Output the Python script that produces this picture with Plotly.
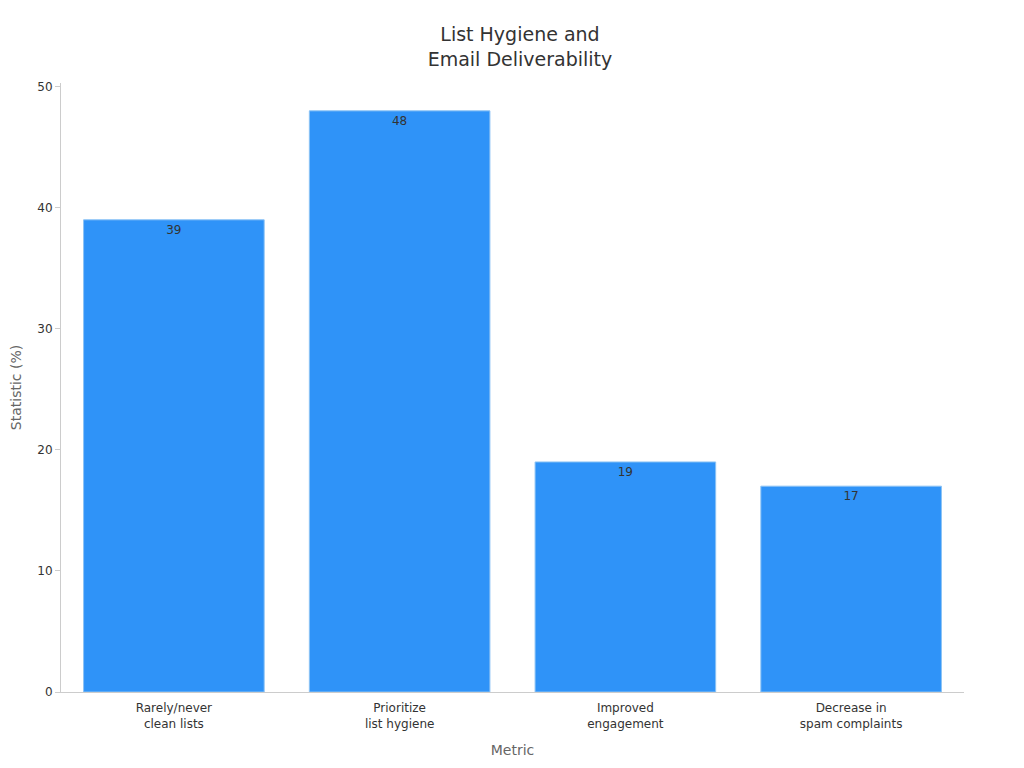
import plotly.graph_objects as go

categories = ["Rarely/never<br>clean lists", "Prioritize<br>list hygiene", "Improved<br>engagement", "Decrease in<br>spam complaints"]
values = [39, 48, 19, 17]

fig = go.Figure(go.Bar(
    x=categories, y=values, text=[str(v) for v in values],
    textposition="inside", insidetextanchor="end",
    textfont=dict(color="#333333", size=12),
    marker=dict(color="#2f93f8", line=dict(color="#8cc3f5", width=1)),
))
fig.update_layout(
    width=1024, height=768,
    font=dict(family="DejaVu Sans", color="#333333"),
    title=dict(text="List Hygiene and<br>Email Deliverability", x=0.5, xanchor="center", y=0.957, font=dict(size=19)),
    plot_bgcolor="white", paper_bgcolor="white",
    margin=dict(l=53, r=68, t=75, b=84),
    bargap=0.2,
    showlegend=False,
)
fig.update_xaxes(title=dict(text="Metric", font=dict(size=14, color="#666666"), standoff=15), showline=True, linecolor="#cccccc",
                 tickfont=dict(size=12), ticks="outside", ticklen=5, tickcolor="rgba(0,0,0,0)", showgrid=False, automargin=False)
fig.update_yaxes(title=dict(text="Statistic (%)", font=dict(size=14, color="#666666")), range=[0, 50.3], showline=True, linecolor="#cccccc",
                 ticks="outside", tickcolor="#cccccc", tickfont=dict(size=12), showgrid=False, zeroline=False, dtick=10, automargin=False)
fig.write_html("out.html")
